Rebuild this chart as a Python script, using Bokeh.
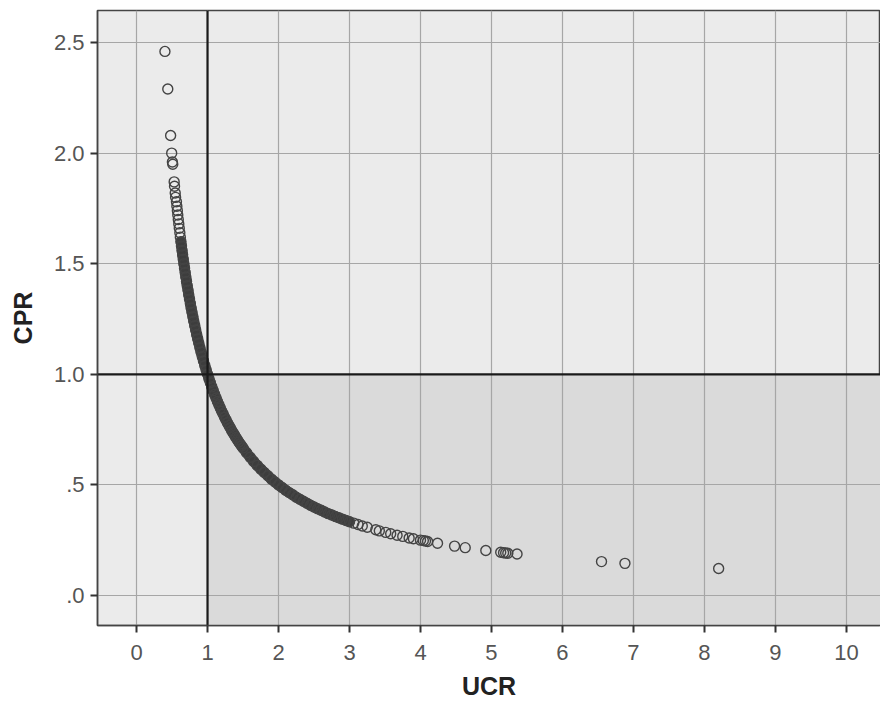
from bokeh.plotting import figure
from bokeh.models import BoxAnnotation, Span, Range1d, FixedTicker, ColumnDataSource
from bokeh.embed import file_html
from bokeh.resources import INLINE

# Sparse upper points
ucr_top = [0.40, 0.44, 0.48, 0.495, 0.505, 0.51, 0.53, 0.535, 0.545, 0.55]
cpr_top = [2.46, 2.29, 2.08, 2.00, 1.96, 1.95, 1.87, 1.85, 1.82, 1.80]

# Dense band, steep part
ucr_a = [0.562, 0.568, 0.575, 0.581, 0.588, 0.595, 0.602, 0.610, 0.617, 0.625,
         0.633, 0.641, 0.649, 0.658, 0.667, 0.676, 0.685, 0.694, 0.704, 0.714,
         0.725, 0.735, 0.746, 0.758, 0.769, 0.781, 0.794, 0.806, 0.820, 0.833,
         0.847, 0.862, 0.877, 0.893, 0.909, 0.926, 0.943, 0.962, 0.980, 1.000]
cpr_a = [1.78, 1.76, 1.74, 1.72, 1.70, 1.68, 1.66, 1.64, 1.62, 1.60,
         1.58, 1.56, 1.54, 1.52, 1.50, 1.48, 1.46, 1.44, 1.42, 1.40,
         1.38, 1.36, 1.34, 1.32, 1.30, 1.28, 1.26, 1.24, 1.22, 1.20,
         1.18, 1.16, 1.14, 1.12, 1.10, 1.08, 1.06, 1.04, 1.02, 1.00]

# Dense band, knee
ucr_b = [1.02, 1.04, 1.06, 1.08, 1.10, 1.12, 1.14, 1.16, 1.18, 1.20, 1.22, 1.24,
         1.26, 1.28, 1.30, 1.32, 1.34, 1.36, 1.38, 1.40, 1.42, 1.44, 1.46, 1.48, 1.50]
cpr_b = [0.980, 0.962, 0.943, 0.926, 0.909, 0.893, 0.877, 0.862, 0.847, 0.833, 0.820, 0.806,
         0.794, 0.781, 0.769, 0.758, 0.746, 0.735, 0.725, 0.714, 0.704, 0.694, 0.685, 0.676, 0.667]

# Dense band, flat part
ucr_c = [1.55, 1.60, 1.65, 1.70, 1.75, 1.80, 1.85, 1.90, 1.95, 2.00,
         2.05, 2.10, 2.15, 2.20, 2.25, 2.30, 2.35, 2.40, 2.45, 2.50,
         2.55, 2.60, 2.65, 2.70, 2.75, 2.80, 2.85, 2.90, 2.95, 3.00]
cpr_c = [0.645, 0.625, 0.606, 0.588, 0.571, 0.556, 0.541, 0.526, 0.513, 0.500,
         0.488, 0.476, 0.465, 0.455, 0.444, 0.435, 0.426, 0.417, 0.408, 0.400,
         0.392, 0.385, 0.377, 0.370, 0.364, 0.357, 0.351, 0.345, 0.339, 0.333]

# Tail
ucr_tail = [3.06, 3.12, 3.18, 3.25, 3.37, 3.42, 3.51, 3.58, 3.67, 3.75, 3.84, 3.90,
            4.00, 4.04, 4.07, 4.10, 4.24, 4.48, 4.63, 4.92, 5.13, 5.17, 5.20, 5.23,
            5.36, 6.55, 6.88, 8.20]
cpr_tail = [0.327, 0.321, 0.314, 0.308, 0.297, 0.292, 0.285, 0.279, 0.272, 0.267, 0.260, 0.256,
            0.250, 0.248, 0.246, 0.244, 0.236, 0.223, 0.216, 0.203, 0.195, 0.193, 0.192, 0.191,
            0.187, 0.153, 0.145, 0.122]

x_ticks = [0, 1, 2, 3, 4, 5, 6, 7, 8, 9, 10]
y_ticks = [0.0, 0.5, 1.0, 1.5, 2.0, 2.5]
y_tick_labels = [".0", ".5", "1.0", "1.5", "2.0", "2.5"]

ucr = ucr_top + ucr_a + ucr_b + ucr_c + ucr_tail
cpr = cpr_top + cpr_a + cpr_b + cpr_c + cpr_tail
src = ColumnDataSource(dict(ucr=ucr, cpr=cpr))

# overlapping markers merge into a solid band where the points are densest
band = ColumnDataSource(dict(ucr=ucr_a[9:] + ucr_b + ucr_c, cpr=cpr_a[9:] + cpr_b + cpr_c))

p = figure(width=880, height=705, output_backend="svg", toolbar_location=None,
           x_range=Range1d(-0.55, 10.48), y_range=Range1d(-0.136, 2.645),
           min_border_left=97, min_border_top=10, min_border_bottom=80, min_border_right=0)

p.background_fill_color = "#ebebeb"
p.border_fill_color = "white"
p.outline_line_color = "#444444"
p.outline_line_width = 1.5

p.add_layout(BoxAnnotation(left=1, top=1, fill_color="#dadada", fill_alpha=1.0,
                           line_alpha=0, level="image"))

for ax in (p.xaxis[0], p.yaxis[0]):
    ax.major_label_text_font = "Liberation Sans"
    ax.major_label_text_font_size = "22px"
    ax.major_label_text_color = "#555555"
    ax.axis_label_text_font = "Liberation Sans"
    ax.axis_label_text_font_style = "bold"
    ax.axis_label_text_font_size = "25px"
    ax.axis_label_text_color = "#222222"
    ax.axis_line_color = "#444444"
    ax.axis_line_width = 1.5
    ax.major_tick_line_color = "#333333"
    ax.major_tick_line_width = 2
    ax.major_tick_out = 7
    ax.major_tick_in = 0
    ax.minor_tick_line_color = None

p.xaxis.axis_label = "UCR"
p.yaxis.axis_label = "CPR"
p.xaxis.ticker = FixedTicker(ticks=x_ticks)
p.yaxis.ticker = FixedTicker(ticks=y_ticks)
p.yaxis.major_label_overrides = {t: l for t, l in zip(y_ticks, y_tick_labels)}
p.xaxis.major_label_standoff = 12
p.yaxis.major_label_standoff = 6
p.xaxis.axis_label_standoff = 9
p.yaxis.axis_label_standoff = 14

p.xgrid.ticker = FixedTicker(ticks=x_ticks)
p.ygrid.ticker = FixedTicker(ticks=y_ticks)
p.grid.grid_line_color = "#a6a6a6"
p.grid.grid_line_width = 1.2

p.add_layout(Span(location=1, dimension="height", line_color="#1a1a1a", line_width=2.2, level="glyph"))
p.add_layout(Span(location=1, dimension="width", line_color="#1a1a1a", line_width=2.2, level="glyph"))

p.line("ucr", "cpr", source=band, line_width=10.5, line_color="#3d3d3d",
       line_cap="round", line_join="round")

p.scatter("ucr", "cpr", source=src, marker="circle", size=10, fill_color=None,
          line_color="#444444", line_width=1.4)

open("out.html", "w").write(file_html(p, INLINE))
